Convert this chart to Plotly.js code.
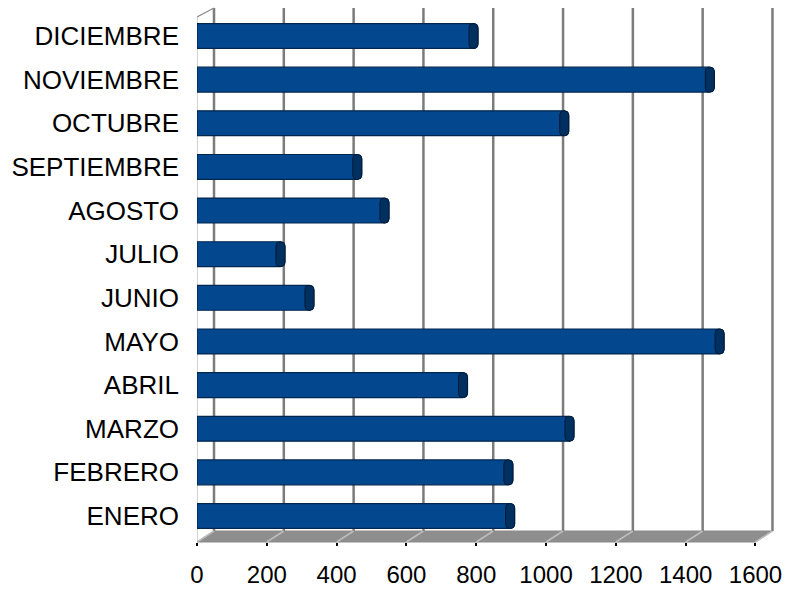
<!DOCTYPE html>
<html>
<head>
<meta charset="utf-8">
<script src="https://cdn.plot.ly/plotly-3.0.1.min.js"></script>
<style>
  html, body { margin: 0; padding: 0; background: #ffffff; }
  #chart { width: 785px; height: 590px; }
</style>
</head>
<body>
<div id="chart"></div>
<script>
// Monthly totals, shown as horizontal cylinders (bottom to top: January .. December)
const months = ['ENERO', 'FEBRERO', 'MARZO', 'ABRIL', 'MAYO', 'JUNIO',
                'JULIO', 'AGOSTO', 'SEPTIEMBRE', 'OCTUBRE', 'NOVIEMBRE', 'DICIEMBRE'];
const totals = [910, 905, 1080, 775, 1510, 335, 252, 550, 472, 1065, 1482, 805];
const xTicks = [0, 200, 400, 600, 800, 1000, 1200, 1400, 1600];
const xTickText = ['0', '200', '400', '600', '800', '1000', '1200', '1400', '1600'];

// Page geometry
const W = 785, H = 590;
const M = { l: 197, r: 3, t: 8, b: 48 };
const plotW = W - M.l - M.r;
const plotH = H - M.t - M.b;
const X_RANGE_MAX = 1676;                 // a little room right of 1600 for the 3D wall
const pxPerUnit = plotW / X_RANGE_MAX;

// Oblique depth of the 3D box (pixels)
const DEPTH_PX_X = 17, DEPTH_PX_Y = 11;
const depthX = DEPTH_PX_X / pxPerUnit;    // depth expressed in x data units
const floorBack = DEPTH_PX_Y / plotH;     // paper-y of the back edge of the floor
const wallLeftTop = 1 - 9 / plotH;        // paper-y where the side wall meets the top
const capU = 9 / pxPerUnit;               // width of the darker cylinder end cap
const xMax = xTicks[xTicks.length - 1];

const shapes = [];
// floor slab
shapes.push({
  type: 'path', xref: 'x', yref: 'paper', layer: 'below',
  path: `M ${depthX},${floorBack} L ${xMax + depthX},${floorBack} L ${xMax},0 L 0,0 Z`,
  fillcolor: '#8e8e8e', line: { color: '#8a8a8a', width: 1 }
});
// grid lines on the back wall + their continuation across the floor
xTicks.forEach(v => {
  shapes.push({
    type: 'line', xref: 'x', yref: 'paper', layer: 'below',
    x0: v + depthX, x1: v + depthX, y0: floorBack, y1: 1,
    line: { color: '#7c7c7c', width: 2.5 }
  });
  shapes.push({
    type: 'line', xref: 'x', yref: 'paper', layer: 'below',
    x0: v + depthX, x1: v, y0: floorBack, y1: 0,
    line: { color: '#bdbdbd', width: 1.5 }
  });
});
// left side wall edges
shapes.push({
  type: 'line', xref: 'x', yref: 'paper', layer: 'below',
  x0: 0, x1: 0, y0: 0, y1: wallLeftTop,
  line: { color: '#a8a8a8', width: 1 }
});
shapes.push({
  type: 'line', xref: 'x', yref: 'paper', layer: 'below',
  x0: 0, x1: depthX, y0: wallLeftTop, y1: 1,
  line: { color: '#8c8c8c', width: 1.2 }
});

const barBody = {
  type: 'bar', orientation: 'h',
  y: months, x: totals,
  width: 0.57,
  marker: { color: '#03488f', cornerradius: 5, line: { color: '#00264f', width: 1.2 } },
  hoverinfo: 'x+y'
};
const barCap = {
  type: 'bar', orientation: 'h',
  y: months, x: totals.map(() => capU), base: totals.map(v => v - capU),
  width: 0.57,
  marker: { color: '#00305f', cornerradius: 4, line: { color: '#001a38', width: 1 } },
  hoverinfo: 'skip'
};

const layout = {
  width: W, height: H,
  margin: M,
  paper_bgcolor: '#ffffff', plot_bgcolor: 'rgba(0,0,0,0)',
  showlegend: false,
  barmode: 'overlay',
  font: { family: 'Liberation Sans, Arial, sans-serif', color: '#000000' },
  xaxis: {
    range: [0, X_RANGE_MAX],
    tickvals: xTicks, ticktext: xTickText,
    showgrid: false, zeroline: false, showline: false,
    ticks: 'outside', ticklen: 3, tickwidth: 2, tickcolor: '#000000',
    ticklabelstandoff: 8,
    tickfont: { size: 24, family: 'Liberation Sans, Arial, sans-serif', color: '#000000' },
    fixedrange: true
  },
  yaxis: {
    type: 'category', categoryorder: 'array', categoryarray: months,
    range: [-0.596, 11.642],
    showgrid: false, zeroline: false, showline: false, ticks: '',
    ticklabelstandoff: 17,
    tickfont: { size: 26, family: 'Liberation Sans, Arial, sans-serif', color: '#000000' },
    fixedrange: true
  },
  shapes: shapes
};

Plotly.newPlot('chart', [barBody, barCap], layout, { displayModeBar: false, staticPlot: true });
</script>
</body>
</html>
